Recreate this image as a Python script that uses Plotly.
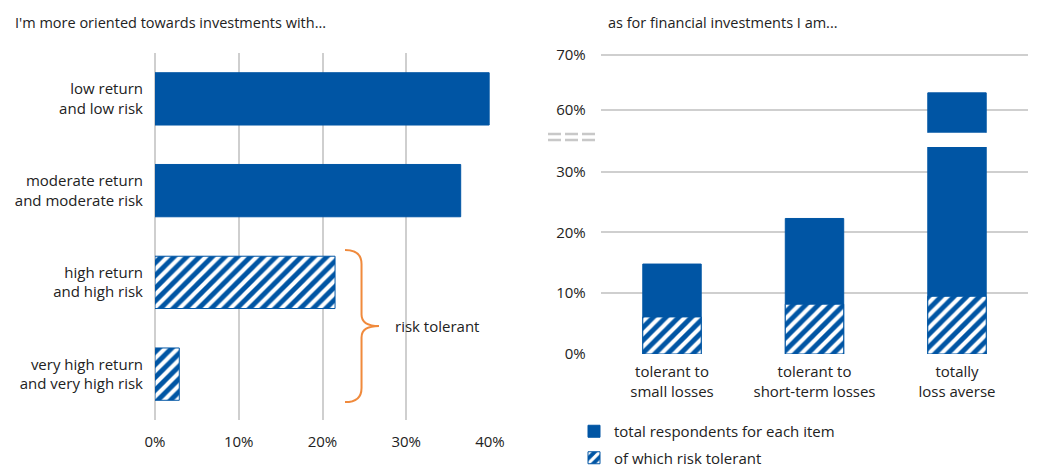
import plotly.graph_objects as go

# ---------------- data ----------------
left_categories = [
    "low return<br>and low risk",
    "moderate return<br>and moderate risk",
    "high return<br>and high risk",
    "very high return<br>and very high risk",
]
left_values = [39.9, 36.5, 21.5, 2.9]
left_hatched = [False, False, True, True]

right_categories = [
    "tolerant to<br>small losses",
    "tolerant to<br>short-term losses",
    "totally<br>loss averse",
]
total_values = [14.8, 22.3, 63.1]
risk_tolerant_values = [6.1, 8.2, 9.5]

left_ticks = [0, 10, 20, 30, 40]
right_lower_ticks = [0, 10, 20, 30]
right_upper_ticks = [60, 70]

# ---------------- style ----------------
BLUE = "#0055A4"
ORANGE = "#F08A3C"
GRID = "#CFCFCF"
TXT = "#222222"
FONT = "Open Sans"
W, H = 1037, 468

def px_x(p):
    return p / W

def px_y(p):
    return 1 - p / H

hatch = dict(fgcolor="white", bgcolor=BLUE, size=9, solidity=0.45,
             fillmode="overlay", fgopacity=1)

fig = go.Figure()

# left chart: horizontal bars
left_pos = list(range(len(left_categories)))
fig.add_trace(go.Bar(
    x=left_values, y=left_pos, orientation="h",
    xaxis="x", yaxis="y", width=0.57,
    marker=dict(
        color=BLUE,
        line=dict(color=BLUE, width=1),
        pattern=dict(shape=["/" if h else "" for h in left_hatched], **hatch),
    ),
    showlegend=False, hoverinfo="skip",
))

# right chart: totals (lower part of broken axis)
fig.add_trace(go.Bar(
    x=right_categories, y=total_values, xaxis="x2", yaxis="y2",
    width=0.41, marker=dict(color=BLUE, line=dict(color=BLUE, width=1)),
    name="total respondents for each item", legendgroup="a",
    hoverinfo="skip",
))
# right chart: totals (upper part of broken axis)
fig.add_trace(go.Bar(
    x=right_categories, y=total_values, xaxis="x3", yaxis="y3",
    width=0.41, marker=dict(color=BLUE, line=dict(color=BLUE, width=1)),
    showlegend=False, hoverinfo="skip",
))
# right chart: risk tolerant (hatched)
fig.add_trace(go.Bar(
    x=right_categories, y=risk_tolerant_values, xaxis="x2", yaxis="y2",
    width=0.41,
    marker=dict(color=BLUE, line=dict(color=BLUE, width=1),
                pattern=dict(shape="/", **hatch)),
    name="of which risk tolerant", legendgroup="b",
    hoverinfo="skip",
))

tickfont = dict(family=FONT, size=15, color=TXT)

fig.update_layout(
    template="none",
    width=W, height=H,
    margin=dict(l=0, r=0, t=0, b=0, pad=0, autoexpand=False),
    paper_bgcolor="white", plot_bgcolor="white",
    barmode="overlay",
    font=dict(family=FONT, size=15, color=TXT),
    xaxis=dict(
        domain=[px_x(155), px_x(490)], range=[0, 40],
        tickvals=left_ticks, ticktext=[f"{v}%" for v in left_ticks],
        showgrid=True, gridcolor=GRID, gridwidth=1.5,
        zeroline=True, zerolinecolor=GRID, zerolinewidth=1.5,
        showline=False, ticks="", tickfont=tickfont, anchor="y",
        ticklabelstandoff=11, automargin=False,
    ),
    yaxis=dict(
        domain=[px_y(420), px_y(53)], range=[3.5, -0.5],
        tickvals=left_pos, ticktext=left_categories,
        showgrid=False, zeroline=False, showline=False, ticks="",
        tickfont=tickfont, anchor="x", ticklabelstandoff=11,
        automargin=False,
    ),
    xaxis2=dict(
        domain=[px_x(600.75), px_x(1028.25)],
        type="category", range=[-0.5, 2.5],
        showgrid=False, zeroline=False, showline=False, ticks="",
        tickfont=tickfont, anchor="y2", ticklabelstandoff=7,
        automargin=False,
    ),
    yaxis2=dict(
        domain=[px_y(354), px_y(147)], range=[0, 34.06],
        tickvals=right_lower_ticks, ticktext=[f"{v}%" for v in right_lower_ticks],
        showgrid=True, gridcolor=GRID, gridwidth=1.5,
        zeroline=False, showline=False, ticks="",
        tickfont=tickfont, anchor="x2", ticklabelstandoff=14,
        automargin=False,
    ),
    xaxis3=dict(
        domain=[px_x(600.75), px_x(1028.25)],
        type="category", range=[-0.5, 2.5], matches="x2",
        showgrid=False, zeroline=False, showline=False, ticks="",
        showticklabels=False, anchor="y3", automargin=False,
    ),
    yaxis3=dict(
        domain=[px_y(132.7), px_y(53)], range=[55.9, 70.3],
        tickvals=right_upper_ticks, ticktext=[f"{v}%" for v in right_upper_ticks],
        showgrid=True, gridcolor=GRID, gridwidth=1.5,
        zeroline=False, showline=False, ticks="",
        tickfont=tickfont, anchor="x3", ticklabelstandoff=14,
        automargin=False,
    ),
    legend=dict(
        x=px_x(574), y=px_y(415), xanchor="left", yanchor="top",
        orientation="v", bgcolor="rgba(0,0,0,0)",
        font=dict(family=FONT, size=15, color=TXT),
        tracegroupgap=4, itemwidth=30,
    ),
)

# titles
fig.add_annotation(
    x=px_x(13), y=px_y(22), xref="paper", yref="paper",
    xanchor="left", yanchor="middle", showarrow=False,
    text="I'm more oriented towards investments with...",
    font=dict(family=FONT, size=14.5, color=TXT),
)
fig.add_annotation(
    x=px_x(606), y=px_y(22), xref="paper", yref="paper",
    xanchor="left", yanchor="middle", showarrow=False,
    text="as for financial investments I am...",
    font=dict(family=FONT, size=14.5, color=TXT),
)

# orange curly brace for "risk tolerant"
brace = ("M 22.69,1.647 Q 24.66,1.647 24.66,1.80 L 24.66,2.35 "
         "Q 24.66,2.476 26.75,2.476 Q 24.66,2.476 24.66,2.60 "
         "L 24.66,3.15 Q 24.66,3.305 22.69,3.305")
fig.add_shape(type="path", path=brace, xref="x", yref="y",
              line=dict(color=ORANGE, width=2))
fig.add_annotation(
    x=28.4, y=2.476, xref="x", yref="y", xanchor="left", yanchor="middle",
    showarrow=False, text="risk tolerant",
    font=dict(family=FONT, size=15, color=TXT),
)

# axis break marker
for yy in (134, 140):
    fig.add_shape(type="line", xref="paper", yref="paper",
                  x0=px_x(548), x1=px_x(598), y0=px_y(yy), y1=px_y(yy),
                  line=dict(color="#C8C8C8", width=2.5, dash="13px,4px"))

fig.write_html(
    "out.html",
    config={"displayModeBar": False},
    post_script="document.documentElement.style.margin='0';"
                "document.body.style.margin='0';document.body.style.padding='0';",
)
